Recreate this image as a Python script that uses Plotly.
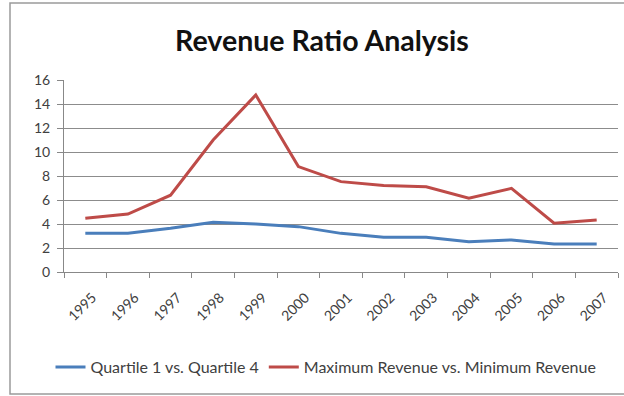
import plotly.graph_objects as go

years = ["1995", "1996", "1997", "1998", "1999", "2000", "2001",
         "2002", "2003", "2004", "2005", "2006", "2007"]
quartile_ratio = [3.22, 3.22, 3.64, 4.14, 4.0, 3.78, 3.22, 2.89, 2.89, 2.53, 2.67, 2.33, 2.33]
max_min_ratio = [4.47, 4.83, 6.4, 11.0, 14.75, 8.78, 7.53, 7.2, 7.1, 6.14, 6.97, 4.06, 4.33]
y_ticks = [0, 2, 4, 6, 8, 10, 12, 14, 16]

FONT = "Lato"
L, R, T, B = 64, 6, 80, 124
W, H = 624, 396
pw, ph = W - L - R, H - T - B

def px_x(x):
    return (x - L) / pw

def px_y(y):
    return (H - B - y) / ph

fig = go.Figure()
fig.add_trace(go.Scatter(x=years, y=quartile_ratio, mode="lines",
                         name="Quartile 1 vs. Quartile 4",
                         line=dict(color="#4A7EBB", width=3)))
fig.add_trace(go.Scatter(x=years, y=max_min_ratio, mode="lines",
                         name="Maximum Revenue vs. Minimum Revenue",
                         line=dict(color="#BE4B48", width=3)))

fig.add_shape(type="rect", xref="paper", yref="paper",
              x0=px_x(10), x1=px_x(632), y0=px_y(394), y1=px_y(3),
              line=dict(color="#9a9a9a", width=1.5), fillcolor="rgba(0,0,0,0)",
              layer="below")

fig.update_layout(
    width=W, height=H,
    margin=dict(l=L, r=R, t=T, b=B),
    paper_bgcolor="white", plot_bgcolor="white",
    title=dict(text="<b>Revenue Ratio Analysis</b>", xref="container", x=322 / W,
               xanchor="center", yref="container", y=1 - 41 / H, yanchor="middle",
               font=dict(family=FONT, size=28.5, color="#111111")),
    font=dict(family=FONT, size=14, color="#404040"),
    showlegend=True,
    legend=dict(orientation="h", x=px_x(326), xanchor="center",
                y=px_y(367), yanchor="middle",
                font=dict(family=FONT, size=16, color="#404040"),
                itemwidth=30, tracegroupgap=0, bgcolor="rgba(0,0,0,0)"),
    xaxis=dict(type="category", range=[-0.5, 12.5], showgrid=False,
               showline=True, linecolor="#888888", linewidth=1,
               ticks="outside", tickson="boundaries", ticklen=5, tickcolor="#888888",
               tickangle=-45, ticklabelstandoff=11, ticklabelshift=7,
               tickfont=dict(family=FONT, size=14, color="#404040")),
    yaxis=dict(range=[0, 16], tickvals=y_ticks, showgrid=True,
               gridcolor="#8c8c8c", gridwidth=1,
               showline=True, linecolor="#888888", linewidth=1,
               ticks="outside", ticklen=6, tickcolor="#888888",
               zeroline=False, ticklabelstandoff=4,
               tickfont=dict(family=FONT, size=14, color="#404040")),
)

fig.write_html("out.html")
